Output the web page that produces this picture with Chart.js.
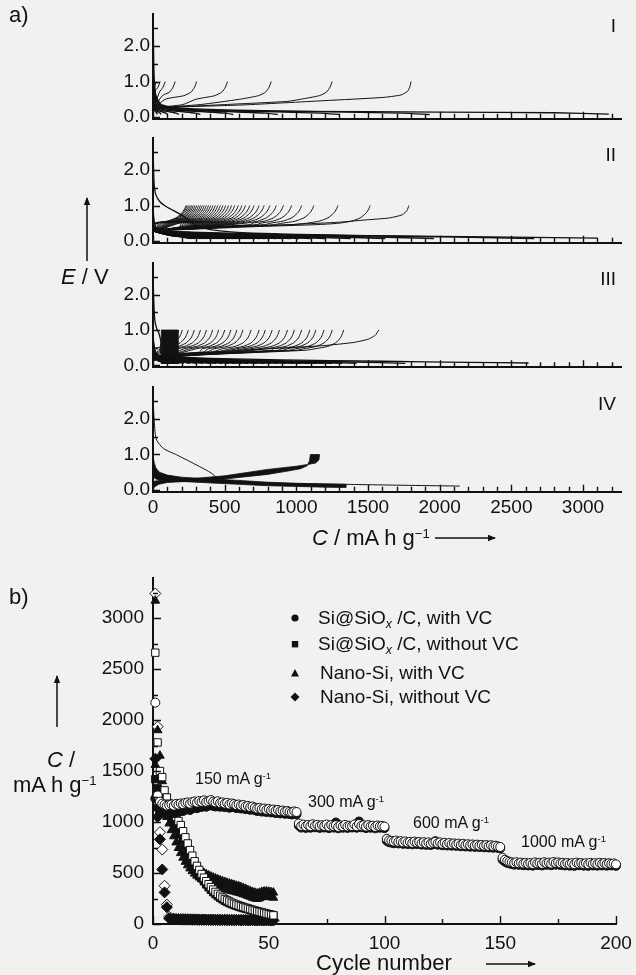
<!DOCTYPE html>
<html><head><meta charset="utf-8">
<script src="https://cdn.jsdelivr.net/npm/chart.js@4.4.1/dist/chart.umd.min.js"></script>
<style>
html,body{margin:0;padding:0;background:#f1f1ef;}
#wrap{position:relative;width:636px;height:975px;overflow:hidden;font-family:"Liberation Sans",Arial,sans-serif;color:#111;}
canvas{position:absolute;left:0;}
.t{position:absolute;white-space:nowrap;line-height:1;}
.t sup{font-size:60%;vertical-align:0;position:relative;top:-0.55em;}
.t sub{font-size:65%;vertical-align:0;position:relative;top:0.3em;}
svg{position:absolute;left:0;top:0;}
</style></head><body><div id="wrap">
<canvas id="pI"></canvas><canvas id="pII"></canvas><canvas id="pIII"></canvas><canvas id="pIV"></canvas><canvas id="pB"></canvas>
<svg width="636" height="975">
 <defs><marker id="ah" markerWidth="8" markerHeight="8" refX="7" refY="4" orient="auto" markerUnits="userSpaceOnUse"><path d="M0,0.8 L8,4 L0,7.2 Z" fill="#111"/></marker></defs>
 <line x1="87" y1="261" x2="87" y2="198" stroke="#111" stroke-width="1.5" marker-end="url(#ah)"/>
 <line x1="435" y1="538" x2="495" y2="538" stroke="#111" stroke-width="1.5" marker-end="url(#ah)"/>
 <line x1="57" y1="727" x2="57" y2="676" stroke="#111" stroke-width="1.5" marker-end="url(#ah)"/>
 <line x1="486" y1="964" x2="535" y2="964" stroke="#111" stroke-width="1.5" marker-end="url(#ah)"/>
 <circle cx="295" cy="618" r="3.6" fill="#111"/>
 <rect x="291.8" y="641" width="6.4" height="6.4" fill="#111"/>
 <path d="M295,669 L299,676.5 L291,676.5 Z" fill="#111"/>
 <path d="M295,692.5 L299.5,697 L295,701.5 L290.5,697 Z" fill="#111"/>
</svg>
<div class="t" style="left:9px;top:4px;font-size:22px">a)</div>
<div class="t" style="left:9px;top:586px;font-size:22px">b)</div>
<div class="t" style="right:20px;top:16px;font-size:19px">I</div>
<div class="t" style="right:20px;top:145px;font-size:19px">II</div>
<div class="t" style="right:20px;top:269px;font-size:19px">III</div>
<div class="t" style="right:20px;top:394px;font-size:19px">IV</div>
<div class="t" style="left:61px;top:266px;font-size:22px"><i>E</i> / V</div>
<div class="t" style="left:312px;top:527px;font-size:22px"><i>C</i> / mA h g<sup>−1</sup></div>
<div class="t" style="left:47px;top:749px;font-size:22px"><i>C</i> /</div>
<div class="t" style="left:13px;top:774px;font-size:22px">mA h g<sup>−1</sup></div>
<div class="t" style="left:316px;top:952px;font-size:22px">Cycle number</div>
<div class="t" style="left:318px;top:608px;font-size:19px">Si@SiO<sub><i>x</i></sub> /C, with VC</div>
<div class="t" style="left:318px;top:634px;font-size:19px">Si@SiO<sub><i>x</i></sub> /C, without VC</div>
<div class="t" style="left:320px;top:663px;font-size:19px">Nano-Si, with VC</div>
<div class="t" style="left:320px;top:687px;font-size:19px">Nano-Si, without VC</div>
<div class="t" style="left:195px;top:771px;font-size:16px">150 mA g<sup>-1</sup></div>
<div class="t" style="left:308px;top:794px;font-size:16px">300 mA g<sup>-1</sup></div>
<div class="t" style="left:413px;top:815px;font-size:16px">600 mA g<sup>-1</sup></div>
<div class="t" style="left:521px;top:834px;font-size:16px">1000 mA g<sup>-1</sup></div>
</div>
<script>
// ---------- a) voltage profiles : axis data ----------
const capTickLabels = [0, 500, 1000, 1500, 2000, 2500, 3000];
const vTickLabels = [0, 1, 2];
const CAP_MAX = 3270, V_MIN = -0.05, V_MAX = 2.9;

// Panel I
const firstDisI = [[0,2.85],[3,2.2],[6,1.4],[10,1.0],[20,0.6],[50,0.32],[120,0.22],[400,0.18],[1000,0.16],[2000,0.14],[2800,0.12],[3180,0.08]];
const firstChaI = [[0,0.2],[119,0.27],[628,0.34],[1193,0.46],[1600,0.55],[1730,0.62],[1775,0.72],[1792,0.85],[1800,1.0]];
const chargeCapsI = [1250, 825, 520, 305, 155, 85, 50, 25];
const dischargeCapsI = [1930, 1300, 870, 560, 330, 180, 100, 55, 30];
const chargeBodyI = [[0,0.2],[0.05,0.26],[0.4,0.35],[0.75,0.44]];
const chargeHookI = [[-220,0.5],[-90,0.6],[-40,0.7],[-15,0.84],[0,1.0]];
const dischargeShapeI = [[0,1.0],[0.01,0.6],[0.03,0.35],[0.1,0.25],[0.3,0.19],[0.6,0.15],[0.9,0.11],[1,0.07]];

// Panel II
const firstDisII = [[0,2.85],[3,2.2],[8,1.6],[20,1.3],[50,1.1],[100,0.95],[170,0.8],[230,0.65],[290,0.45],[400,0.32],[700,0.22],[1500,0.15],[2500,0.11],[3100,0.08]];
const firstChaII = [[0,0.3],[200,0.33],[600,0.4],[1000,0.47],[1300,0.53],[1473,0.59],[1650,0.65],[1740,0.74],[1772,0.86],[1785,1.0]];
const chargeCapsII = [1515,1290,1122,1037,967,910,860,815,775,740,705,675,645,620,595,570,548,527,507,488,470,452,435,418,402,387,372,358,344,331,318,305,293,281,270,259,248,238,230];
const dischargeCapsII = [2660,1960,1620,1380,1200,1100,1020,960,905,860,815,780,745,712,682,655,628,603,580,558,537,517,498,480,462,445,429,413,398,383,369,356,343,330,317,305,293,282,271,260];
const chargeBodyII = [[0,0.28],[0.1,0.31],[0.45,0.4],[0.75,0.46]];
const chargeHookII = [[-220,0.5],[-130,0.56],[-70,0.65],[-30,0.78],[-10,0.9],[0,1.0]];
const dischargeShapeII = [[0,1.0],[0.004,0.45],[0.02,0.3],[0.1,0.25],[0.4,0.17],[0.8,0.11],[1,0.07]];

// Panel III
const firstDisIII = [[0,2.85],[4,2.0],[12,1.3],[25,1.05],[42,0.9],[55,0.65],[50,0.45],[58,0.32],[120,0.26],[400,0.2],[900,0.16],[1600,0.12],[2200,0.09],[2620,0.07]];
const firstChaIII = [[0,0.12],[60,0.3],[400,0.38],[800,0.47],[1190,0.56],[1400,0.65],[1500,0.74],[1550,0.85],[1575,1.0]];
const chargeCapsIII = [1330,1250,1193,1136,1094,1037,986,938,882,831,783,740,684,627,585,543,500,458,416,373,331,288,246,204,180];
const dischargeCapsIII = [1760,1420,1320,1250,1190,1140,1090,1035,985,930,875,825,780,725,665,620,575,530,485,440,395,350,305,260,215,185,175,165,155,145,135,125,115,106,99,93,87,81,75,69];
const chargeBodyIII = [[0,0.12],[0.04,0.22],[0.3,0.31],[0.6,0.38],[0.8,0.43]];
const chargeHookIII = [[-200,0.47],[-110,0.54],[-55,0.64],[-22,0.78],[-8,0.9],[0,1.0]];
const dischargeShapeIII = [[0,1.0],[0.004,0.5],[0.02,0.3],[0.1,0.22],[0.4,0.15],[0.8,0.1],[1,0.06]];
const earlyBlockIII = [[58,0.04],[58,1.0],[174,1.0],[174,0.05]];

// Panel IV
const firstDisIV = [[0,2.85],[5,2.2],[15,1.6],[26,1.4],[72,1.17],[165,0.99],[282,0.75],[398,0.5],[460,0.32],[600,0.24],[900,0.19],[1335,0.16],[1800,0.13],[2140,0.11]];
const chargeBandIV = [[0,0.05],[15,0.1],[40,0.16],[100,0.21],[300,0.26],[500,0.31],[800,0.44],[950,0.54],[1030,0.6],[1075,0.68],[1092,0.82],[1098,1.0],[1162,1.0],[1158,0.85],[1135,0.76],[1080,0.72],[1000,0.67],[800,0.58],[500,0.4],[300,0.33],[100,0.28],[30,0.26],[0,0.24]];
const dischargeBandIV = [[0,0.97],[8,0.78],[20,0.62],[45,0.5],[100,0.42],[200,0.36],[400,0.31],[600,0.27],[800,0.22],[1000,0.19],[1200,0.17],[1345,0.16],[1345,0.07],[1200,0.08],[1000,0.1],[800,0.12],[600,0.16],[400,0.2],[200,0.24],[100,0.26],[40,0.28],[10,0.33],[0,0.4]];

// ---------- b) cycling data ----------
const cycleTickLabels = [0, 50, 100, 150, 200];
const capTickLabelsB = [0, 500, 1000, 1500, 2000, 2500, 3000];
const siSiOxVC_dis = [2170,1260,1200,1180,1170,1160,1165,1172,1160,1178,
1170,1182,1175,1188,1192,1180,1196,1202,1190,1206,
1198,1212,1196,1205,1215,1200,1192,1203,1186,1192,
1180,1188,1172,1182,1176,1166,1172,1160,1166,1152,
1158,1146,1152,1140,1132,1138,1126,1132,1120,1128,
1116,1122,1110,1118,1106,1112,1102,1108,1100,1096,
1104,1098,985,962,975,958,970,960,978,964,
972,958,968,962,975,955,970,960,968,952,
966,958,972,956,964,960,975,958,980,962,
968,955,970,958,964,952,966,958,962,955,
835,820,815,808,818,805,812,800,810,798,
806,795,808,798,804,792,802,790,800,788,
798,806,792,800,786,796,784,794,782,790,
780,788,776,786,774,782,772,780,770,778,
768,776,766,774,764,772,762,768,760,755,
650,630,618,610,605,598,606,595,602,592,
600,590,598,588,604,594,600,590,606,596,
602,592,608,598,604,594,600,590,598,588,
596,586,602,592,598,588,596,586,600,590,
596,588,600,590,598,588,596,590,594,585];
const siSiOxVC_cha = [1230,1140,1110,1095,1088,1082,1090,1095,1088,1100,
1098,1110,1108,1120,1128,1118,1135,1142,1135,1150,
1148,1160,1150,1160,1170,1158,1152,1162,1150,1156,
1146,1155,1140,1150,1146,1136,1142,1132,1138,1126,
1132,1120,1126,1116,1108,1114,1102,1108,1098,1106,
1094,1100,1088,1096,1084,1090,1080,1086,1078,1074,
1082,1076,965,945,958,942,954,944,962,948,
956,942,952,946,960,940,955,945,995,938,
952,944,958,942,950,946,960,944,1005,948,
954,940,956,944,950,938,952,944,948,940,
815,802,798,792,802,790,797,786,796,784,
792,781,794,784,790,778,788,776,786,774,
784,812,778,786,772,782,770,780,768,776,
766,774,762,772,760,768,758,766,756,764,
754,762,752,760,750,758,748,754,746,742,
630,612,600,594,588,582,590,580,586,576,
584,574,582,572,588,578,584,574,590,580,
586,576,592,582,588,578,584,574,582,572,
580,570,586,576,582,572,580,570,584,574,
580,572,584,574,582,572,580,574,578,570];
const siSiOx_dis = [2660,1780,1500,1440,1310,1240,1180,1130,1090,1050,1010,970,910,850,790,725,670,615,570,530,490,455,420,390,362,338,315,295,277,260,245,232,220,209,199,190,182,174,167,160,153,146,139,132,126,120,114,108,102,96,90,85];
const siSiOx_cha = [1420,1330,1290,1240,1180,1120,1070,1030,990,955,920,880,830,775,720,665,615,565,522,485,450,418,388,360,335,312,292,273,257,242,228,216,205,195,186,178,170,163,156,150,144,138,132,126,121,115,110,105,100,95,90,86];
const nanoSiVC_dis = [3170,1900,1650,1400,1280,1200,1130,1060,990,930,870,810,760,710,665,625,590,560,545,530,515,500,488,476,465,455,446,437,428,420,412,404,397,390,383,376,370,362,352,344,332,324,314,306,300,306,314,318,320,316,312,308];
const nanoSiVC_cha = [1560,1420,1300,1200,1120,1050,985,920,860,800,745,695,650,610,575,545,518,494,474,456,440,426,414,402,392,382,373,365,357,350,343,336,330,324,318,312,307,300,292,286,276,268,258,250,246,252,262,268,270,266,262,258];
const nanoSi_dis = [3240,1935,900,730,375,190,70,55,52,50,50,49,48,48,47,47,46,46,45,45,45,44,44,44,43,43,43,42,42,42,42,41,41,41,41,40,40,40,40,40,39,39,39,39,39,38,38,38,38,38,38,37];
const nanoSi_cha = [1620,1050,830,535,310,165,55,46,45,44,44,43,43,42,42,42,41,41,41,40,40,40,40,39,39,39,39,38,38,38,38,38,37,37,37,37,37,36,36,36,36,36,36,35,35,35,35,35,35,35,34,34];

// ---------- plotting ----------
Chart.defaults.font.family = '"Liberation Sans", Arial, sans-serif';
Chart.defaults.color = '#111';
Chart.defaults.animation = false;

function tickPlugin(o) {
  return {
    id: 'inwardTicks',
    afterDraw(chart) {
      const ctx = chart.ctx, a = chart.chartArea, xs = chart.scales.x, ys = chart.scales.y;
      ctx.save(); ctx.strokeStyle = '#111'; ctx.lineWidth = 1.4; ctx.lineCap = 'butt'; ctx.beginPath();
      const nx = Math.round(o.xMax / o.xMinor), kx = Math.round(o.xMajor / o.xMinor);
      for (let i = 0; i <= nx; i++) {
        const p = Math.round(xs.getPixelForValue(i * o.xMinor)) + 0.5;
        ctx.moveTo(p, a.bottom); ctx.lineTo(p, a.bottom - (i % kx === 0 ? o.majorLen : o.minorLen));
      }
      const ny = Math.round(o.yMaxTick / o.yMinor), ky = Math.round(o.yMajor / o.yMinor);
      for (let i = 0; i <= ny; i++) {
        const p = Math.round(ys.getPixelForValue(i * o.yMinor)) + 0.5;
        ctx.moveTo(a.left, p); ctx.lineTo(a.left + (i % ky === 0 ? o.majorLen : o.minorLen), p);
      }
      ctx.stroke(); ctx.restore();
    }
  };
}

function lineDS(points, w) {
  return { data: points.map(([x, y]) => ({ x, y })), showLine: true, borderColor: '#111', borderWidth: w || 1,
    pointRadius: 0, fill: false, tension: 0.2, clip: false };
}
function shapeDS(shape, cap, w) { return lineDS(shape.map(([f, v]) => [f * cap, v]), w); }
function chargeDS(body, hook, cap) {
  const start = cap + hook[0][0];
  const pts = [[0, body[0][1]]];
  body.slice(1).forEach(([f, v]) => { if (f * cap < start - 5) pts.push([f * cap, v]); });
  hook.forEach(([d, v]) => { if (cap + d > pts[pts.length - 1][0]) pts.push([cap + d, v]); });
  return lineDS(pts);
}
function polyDS(points) {
  return { data: points.map(([x, y]) => ({ x, y })), showLine: true, borderColor: '#111', borderWidth: 0.8,
    backgroundColor: '#111', pointRadius: 0, fill: 'shape', tension: 0, clip: false };
}

function makePanel(id, y0, showLabels, datasets) {
  const pxV = 35.5;
  const areaTop = y0 - V_MAX * pxV, areaBottom = y0 - V_MIN * pxV;
  const canvasTop = Math.floor(areaTop) - 6;
  const padTop = areaTop - canvasTop;
  const xh = showLabels ? 34 : 6;
  const H = Math.ceil(areaBottom - canvasTop) + xh;
  const xScaleH = H - (areaBottom - canvasTop);
  const cv = document.getElementById(id);
  cv.width = 636; cv.height = H; cv.style.top = canvasTop + 'px';
  const right = 153 + CAP_MAX * (430 / 3000);
  new Chart(cv, {
    type: 'scatter',
    data: { datasets },
    options: {
      responsive: false, events: [],
      layout: { padding: { left: 0, right: 636 - right, top: padTop, bottom: 0 } },
      plugins: { legend: { display: false }, tooltip: { enabled: false } },
      scales: {
        x: { type: 'linear', min: 0, max: CAP_MAX,
          grid: { display: false, drawTicks: false }, border: { display: true, color: '#111', width: 2 },
          ticks: { display: showLabels, padding: 5, font: { size: 19 }, color: '#111', maxRotation: 0, callback: v => String(v) },
          afterBuildTicks: s => { s.ticks = capTickLabels.map(v => ({ value: v })); },
          afterFit: s => { s.height = xScaleH; s.paddingLeft = 0; s.paddingRight = 0; } },
        y: { type: 'linear', min: V_MIN, max: V_MAX,
          grid: { display: false, drawTicks: false }, border: { display: true, color: '#111', width: 2 },
          ticks: { padding: 3, font: { size: 19 }, color: '#111', callback: v => v.toFixed(1) },
          afterBuildTicks: s => { s.ticks = vTickLabels.map(v => ({ value: v })); },
          afterFit: s => { s.width = 153; s.paddingTop = 0; s.paddingBottom = 0; } }
      }
    },
    plugins: [tickPlugin({ xMax: 3200, xMinor: 100, xMajor: 500, yMaxTick: 2.5, yMinor: 0.5, yMajor: 1, majorLen: 7, minorLen: 5 })]
  });
}

function panelSets(firstDis, firstCha, chCaps, disCaps, body, hook, disShape) {
  const ds = [lineDS(firstDis, 1.3), lineDS(firstCha)];
  chCaps.forEach(c => ds.push(chargeDS(body, hook, c)));
  disCaps.forEach(c => ds.push(shapeDS(disShape, c, 1.4)));
  return ds;
}

makePanel('pI', 117, false, panelSets(firstDisI, firstChaI, chargeCapsI, dischargeCapsI, chargeBodyI, chargeHookI, dischargeShapeI));
makePanel('pII', 241, false, panelSets(firstDisII, firstChaII, chargeCapsII, dischargeCapsII, chargeBodyII, chargeHookII, dischargeShapeII));
makePanel('pIII', 365.5, false, panelSets(firstDisIII, firstChaIII, chargeCapsIII, dischargeCapsIII, chargeBodyIII, chargeHookIII, dischargeShapeIII).concat([polyDS(earlyBlockIII)]));
makePanel('pIV', 490, true, [lineDS(firstDisIV), polyDS(chargeBandIV), polyDS(dischargeBandIV)]);

// ---------- b) chart ----------
function ptsDS(vals, style, r, filled) {
  return { data: vals.map((v, i) => ({ x: i + 1, y: v })), showLine: false, pointStyle: style, pointRadius: r,
    borderWidth: 1, backgroundColor: filled ? '#111' : '#fff', borderColor: '#111', clip: false };
}
(function () {
  const yMax = 3390, pxU = 0.102, bottom = 924;
  const areaTop = bottom - yMax * pxU;
  const canvasTop = 570, padTop = areaTop - canvasTop;
  const xh = 34, H = Math.ceil(bottom - canvasTop) + xh;
  const cv = document.getElementById('pB');
  cv.width = 636; cv.height = H; cv.style.top = canvasTop + 'px';
  new Chart(cv, {
    type: 'scatter',
    data: { datasets: [
      ptsDS(siSiOxVC_dis, 'circle', 4.5, false),
      ptsDS(siSiOxVC_cha, 'circle', 4.5, true),
      ptsDS(siSiOx_dis, 'rect', 5.2, false),
      ptsDS(siSiOx_cha, 'rect', 5.2, true),
      ptsDS(nanoSiVC_cha, 'triangle', 5, true),
      ptsDS(nanoSiVC_dis, 'triangle', 5, true),
      ptsDS(nanoSi_cha, 'rectRot', 5.5, true),
      ptsDS(nanoSi_dis, 'rectRot', 5.5, false)
    ] },
    options: {
      responsive: false, events: [],
      layout: { padding: { left: 0, right: 20, top: padTop, bottom: 0 } },
      plugins: { legend: { display: false }, tooltip: { enabled: false } },
      scales: {
        x: { type: 'linear', min: 0, max: 200,
          grid: { display: false, drawTicks: false }, border: { display: true, color: '#111', width: 2 },
          ticks: { padding: 8, font: { size: 19 }, color: '#111', maxRotation: 0, callback: v => String(v) },
          afterBuildTicks: s => { s.ticks = cycleTickLabels.map(v => ({ value: v })); },
          afterFit: s => { s.height = H - (bottom - canvasTop); s.paddingLeft = 0; s.paddingRight = 0; } },
        y: { type: 'linear', min: 0, max: yMax,
          grid: { display: false, drawTicks: false }, border: { display: true, color: '#111', width: 2 },
          ticks: { padding: 9, font: { size: 19 }, color: '#111', callback: v => String(v) },
          afterBuildTicks: s => { s.ticks = capTickLabelsB.map(v => ({ value: v })); },
          afterFit: s => { s.width = 153; s.paddingTop = 0; s.paddingBottom = 0; } }
      }
    },
    plugins: [tickPlugin({ xMax: 200, xMinor: 25, xMajor: 50, yMaxTick: 3250, yMinor: 250, yMajor: 500, majorLen: 8, minorLen: 5 })]
  });
})();
</script>
</body></html>
